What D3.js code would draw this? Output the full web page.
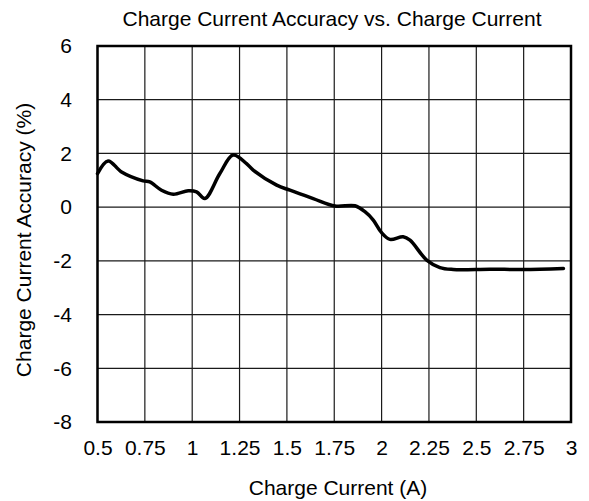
<!DOCTYPE html>
<html>
<head>
<meta charset="utf-8">
<script src="https://cdn.jsdelivr.net/npm/d3@7"></script>
<style>
  body { margin: 0; background: #fff; }
  svg text { font-family: "Liberation Sans", Arial, sans-serif; fill: #000; }
</style>
</head>
<body>
<div id="chart"></div>
<script>
// curve
var current = [0.5, 0.556, 0.627, 0.741, 0.776, 0.838, 0.9, 0.979, 1.023, 1.067, 1.146, 1.216, 1.287,
  1.322, 1.446, 1.516, 1.639, 1.754, 1.859, 1.912, 1.956, 2.0, 2.044, 2.114, 2.15, 2.238, 2.308,
  2.378, 2.572, 2.748, 2.96];
var accuracy = [1.25, 1.72, 1.31, 0.98, 0.94, 0.63, 0.48, 0.61, 0.57, 0.32, 1.25, 1.94, 1.62,
  1.38, 0.82, 0.63, 0.32, 0.04, 0.05, -0.17, -0.48, -0.95, -1.2, -1.1, -1.23, -1.97, -2.25,
  -2.32, -2.31, -2.32, -2.28];
var xTicks = [0.5, 0.75, 1, 1.25, 1.5, 1.75, 2, 2.25, 2.5, 2.75, 3];
var yTicks = [-8, -6, -4, -2, 0, 2, 4, 6];

var width = 589, height = 501;
var margin = {left: 97.5, right: 18, top: 46, bottom: 79};
var fontSize = "21px";

var svg = d3.select("#chart").append("svg")
    .attr("width", width)
    .attr("height", height);

var x = d3.scaleLinear()
    .domain([0.5, 3])
    .range([margin.left, width - margin.right]);

var y = d3.scaleLinear()
    .domain([-8, 6])
    .range([height - margin.bottom, margin.top]);

// grid
svg.append("g")
    .selectAll("line")
    .data(xTicks)
    .enter().append("line")
    .attr("x1", function(d) { return x(d); })
    .attr("x2", function(d) { return x(d); })
    .attr("y1", y(6))
    .attr("y2", y(-8))
    .attr("stroke", "#1a1a1a")
    .attr("stroke-width", 1.2);

svg.append("g")
    .selectAll("line")
    .data(yTicks)
    .enter().append("line")
    .attr("x1", x(0.5))
    .attr("x2", x(3))
    .attr("y1", function(d) { return y(d); })
    .attr("y2", function(d) { return y(d); })
    .attr("stroke", "#1a1a1a")
    .attr("stroke-width", 1.2);

// frame
svg.append("rect")
    .attr("x", x(0.5))
    .attr("y", y(6))
    .attr("width", x(3) - x(0.5))
    .attr("height", y(-8) - y(6))
    .attr("fill", "none")
    .attr("stroke", "#000")
    .attr("stroke-width", 2.5);

// tick labels
var xAxis = d3.axisBottom(x)
    .tickValues(xTicks)
    .tickSize(0)
    .tickPadding(18)
    .tickFormat(function(d) { return String(d); });

svg.append("g")
    .attr("transform", "translate(0," + y(-8) + ")")
    .call(xAxis)
    .call(function(g) { g.select(".domain").remove(); })
    .selectAll("text")
    .style("font-size", fontSize)
    .style("font-family", "Liberation Sans, Arial, sans-serif");

var yAxis = d3.axisLeft(y)
    .tickValues(yTicks)
    .tickSize(0)
    .tickPadding(25.5)
    .tickFormat(function(d) { return String(d); });

svg.append("g")
    .attr("transform", "translate(" + x(0.5) + ",0)")
    .call(yAxis)
    .call(function(g) { g.select(".domain").remove(); })
    .selectAll("text")
    .style("font-size", fontSize)
    .style("font-family", "Liberation Sans, Arial, sans-serif");

// curve
var line = d3.line()
    .x(function(d, i) { return x(current[i]); })
    .y(function(d) { return y(d); })
    .curve(d3.curveCatmullRom.alpha(0.5));

svg.append("path")
    .datum(accuracy)
    .attr("d", line)
    .attr("fill", "none")
    .attr("stroke", "#000")
    .attr("stroke-width", 3.5)
    .attr("stroke-linejoin", "round")
    .attr("stroke-linecap", "round");

// titles
svg.append("text")
    .attr("x", 332)
    .attr("y", 26)
    .attr("text-anchor", "middle")
    .style("font-size", fontSize)
    .text("Charge Current Accuracy vs. Charge Current");

svg.append("text")
    .attr("x", 338)
    .attr("y", 495)
    .attr("text-anchor", "middle")
    .style("font-size", fontSize)
    .text("Charge Current (A)");

svg.append("text")
    .attr("transform", "translate(31," + ((y(6) + y(-8)) / 2 + 6) + ") rotate(-90)")
    .attr("text-anchor", "middle")
    .style("font-size", fontSize)
    .text("Charge Current Accuracy (%)");
</script>
</body>
</html>
